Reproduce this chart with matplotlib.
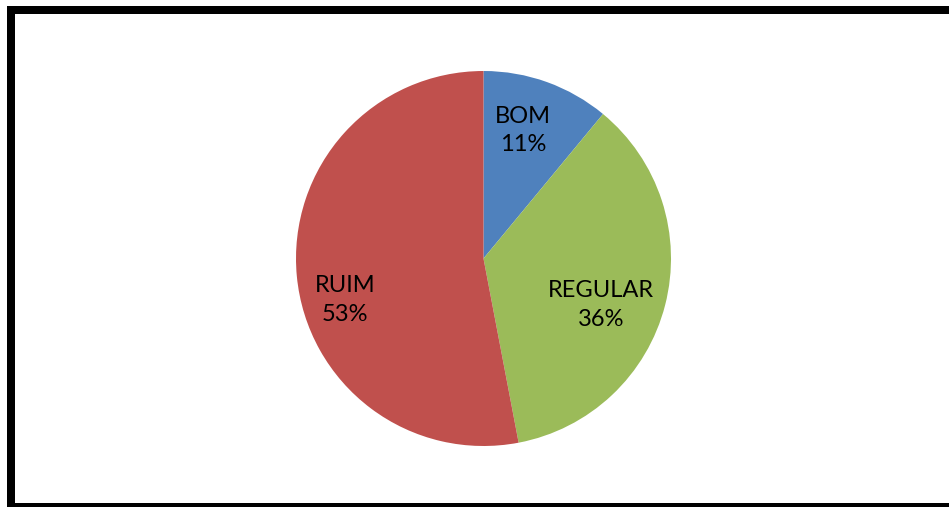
import matplotlib
matplotlib.use('Agg')
import matplotlib.pyplot as plt
from matplotlib.patches import Rectangle
import numpy as np

categorias = ['BOM', 'REGULAR', 'RUIM']
percentuais = [11, 36, 53]
cores = ['#4F81BD', '#9BBB59', '#C0504D']

# posicao do rotulo de cada fatia: (angulo em graus, fracao do raio)
pos_rotulos = [(72.7, 0.715), (-21.6, 0.674), (196.6, 0.771)]

W, H = 949, 507
fig = plt.figure(figsize=(W / 100, H / 100), dpi=100)
fig.patch.set_facecolor('white')

cx, cy, r = 483.5, 258.5, 187.5
ax = fig.add_axes([(cx - r) / W, (H - cy - r) / H, 2 * r / W, 2 * r / H])
ax.pie(percentuais, colors=cores, startangle=90, counterclock=False,
       radius=1, wedgeprops=dict(linewidth=0))
ax.set_xlim(-1, 1)
ax.set_ylim(-1, 1)
ax.axis('off')

for nome, p, (ang, dist) in zip(categorias, percentuais, pos_rotulos):
    a = np.deg2rad(ang)
    ax.text(dist * np.cos(a), dist * np.sin(a), '%s\n%d%%' % (nome, p),
            ha='center', va='center', fontsize=17, family='Lato',
            linespacing=1.45, color='black')

# moldura preta (lado direito fica fora da imagem)
borda = Rectangle((10.5 / W, (H - 507) / H), (970 - 10.5) / W, (507 - 10) / H,
                  transform=fig.transFigure, fill=False, edgecolor='black',
                  linewidth=8 * 72 / 100)
fig.patches.append(borda)

fig.savefig('out.png', dpi=100)
